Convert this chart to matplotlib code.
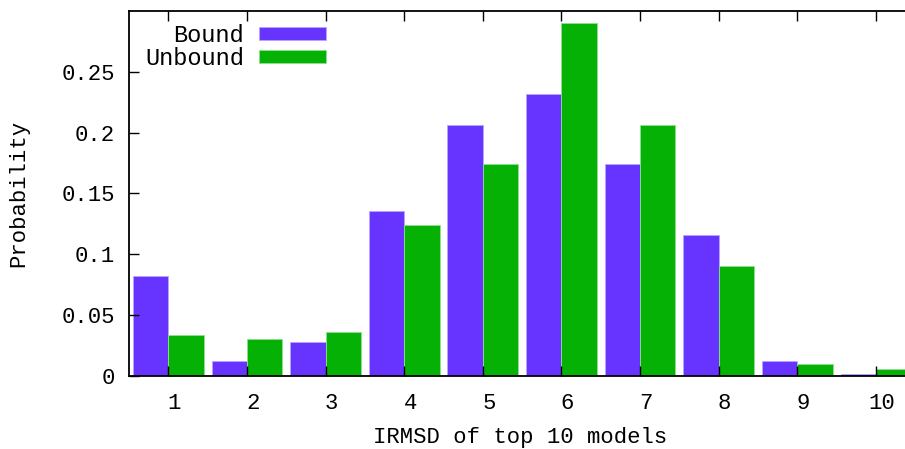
import matplotlib

matplotlib.use("Agg")
import matplotlib.pyplot as plt
import matplotlib.transforms as mtransforms
import numpy as np

plt.rcParams["font.family"] = ["Liberation Mono", "DejaVu Sans Mono"]

bins = [1, 2, 3, 4, 5, 6, 7, 8, 9, 10]
bound = [0.082, 0.012, 0.028, 0.136, 0.206, 0.232, 0.174, 0.116, 0.012, 0.002]
unbound = [0.034, 0.030, 0.036, 0.124, 0.174, 0.290, 0.206, 0.090, 0.010, 0.006]
series_labels = ["Bound", "Unbound"]
colors = ["#6633ff", "#05b105"]

fig = plt.figure(figsize=(9.05, 4.49), dpi=100)
ax = fig.add_axes([0.1425, 0.1626, 0.8575, 0.8129])

x = np.asarray(bins, dtype=float)
width = 0.45
ax.bar(x - width / 2, bound, width, color=colors[0], edgecolor="#b9a6ff",
       linewidth=0.6, label=series_labels[0])
ax.bar(x + width / 2, unbound, width, color=colors[1], edgecolor="#8fe08f",
       linewidth=0.6, label=series_labels[1])

fs = 16
ax.set_xlim(0.5, 10.37)
ax.set_ylim(0, 0.3)
ax.set_xticks(bins)
ax.set_xticklabels([str(b) for b in bins])
ax.set_yticks([0, 0.05, 0.1, 0.15, 0.2, 0.25])
ax.set_yticklabels(["0", "0.05", "0.1", "0.15", "0.2", "0.25"])
ax.tick_params(axis="both", direction="in", length=7, width=1.0, labelsize=fs,
               pad=10)
ax.tick_params(axis="x", top=True, pad=12)
ax.spines["right"].set_visible(False)
for side in ("left", "bottom", "top"):
    ax.spines[side].set_linewidth(1.3)

# gnuplot puts the x tic labels a little right of the tics
shift = mtransforms.ScaledTranslation(6 / 100, 0, fig.dpi_scale_trans)
for lab in ax.get_xticklabels():
    lab.set_transform(lab.get_transform() + shift)

ax.set_xlabel("IRMSD of top 10 models", fontsize=fs)
ax.xaxis.set_label_coords(0.504, -0.14)
ax.set_ylabel("Probability", fontsize=fs)
ax.yaxis.set_label_coords(-0.129, 0.5)

leg = ax.legend(loc="upper left", bbox_to_anchor=(0.004, 1.0), frameon=False,
                markerfirst=False, fontsize=17, handlelength=2.84,
                handleheight=0.5, handletextpad=0.64, labelspacing=0.0,
                borderaxespad=0.15)
for t in leg.get_texts():
    t.set_ha("right")

fig.savefig("out.png", dpi=100)
